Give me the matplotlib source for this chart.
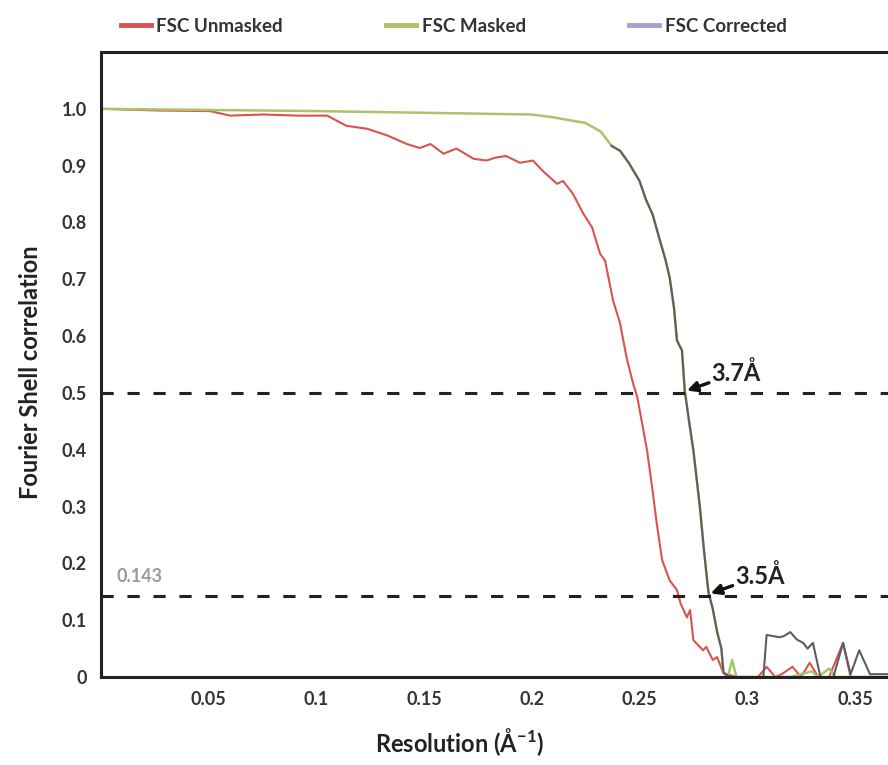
import matplotlib
matplotlib.use('Agg')
import matplotlib.pyplot as plt
from matplotlib.lines import Line2D

plt.rcParams['font.family'] = ['Lato', 'DejaVu Sans']
plt.rcParams['font.weight'] = 'bold'

# FSC curves (resolution in 1/A, correlation)
unmasked_x = [0.0, 0.027, 0.0506, 0.06, 0.075, 0.092, 0.105, 0.114, 0.1235, 0.133, 0.142,
              0.148, 0.153, 0.159, 0.165, 0.173, 0.179, 0.183, 0.188, 0.1945, 0.2005,
              0.205, 0.2117, 0.2145, 0.219, 0.224, 0.228, 0.2317, 0.234, 0.2377, 0.241,
              0.244, 0.247, 0.249, 0.2535, 0.256, 0.258, 0.2605, 0.264, 0.2674, 0.269,
              0.272, 0.2735, 0.275, 0.2795, 0.281, 0.284, 0.286, 0.289, 0.295, 0.305,
              0.309, 0.313, 0.316, 0.321, 0.325, 0.329, 0.333, 0.338, 0.3445, 0.348,
              0.355, 0.365]
unmasked_y = [1.0, 0.997, 0.996, 0.988, 0.99, 0.988, 0.988, 0.970, 0.965, 0.953, 0.938,
              0.931, 0.938, 0.921, 0.930, 0.912, 0.909, 0.914, 0.917, 0.905, 0.909,
              0.891, 0.868, 0.873, 0.851, 0.815, 0.791, 0.745, 0.733, 0.663, 0.622,
              0.562, 0.517, 0.492, 0.399, 0.33, 0.27, 0.206, 0.170, 0.153, 0.130,
              0.105, 0.118, 0.065, 0.047, 0.053, 0.030, 0.035, 0.007, 0.0, 0.0,
              0.018, 0.0, 0.005, 0.018, 0.0, 0.025, 0.0, 0.0, 0.06, 0.0,
              0.0, 0.0]

masked_x = [0.0, 0.05, 0.1, 0.15, 0.2, 0.21, 0.225, 0.232, 0.237, 0.241, 0.245, 0.250,
            0.253, 0.256, 0.2595, 0.262, 0.264, 0.266, 0.2674, 0.2697, 0.271, 0.273,
            0.275, 0.278, 0.280, 0.282, 0.284, 0.286, 0.288, 0.289, 0.291, 0.293,
            0.295, 0.32, 0.33, 0.333, 0.338, 0.341, 0.365]
masked_y = [1.0, 0.998, 0.996, 0.993, 0.99, 0.985, 0.975, 0.96, 0.935, 0.926, 0.905, 0.873,
            0.84, 0.815, 0.768, 0.735, 0.703, 0.65, 0.592, 0.575, 0.504, 0.45,
            0.399, 0.30, 0.22, 0.149, 0.12, 0.08, 0.05, 0.007, 0.0, 0.03,
            0.0, 0.0, 0.01, 0.0, 0.015, 0.0, 0.0]

corrected_x = [0.237, 0.241, 0.245, 0.250, 0.253, 0.256, 0.2595, 0.262, 0.264, 0.266,
               0.2674, 0.2697, 0.271, 0.273, 0.275, 0.278, 0.280, 0.282, 0.284, 0.286,
               0.288, 0.289, 0.292, 0.306, 0.3075, 0.309, 0.315, 0.317, 0.320, 0.323,
               0.326, 0.328, 0.3305, 0.334, 0.340, 0.3445, 0.348, 0.352, 0.357, 0.365]
corrected_y = [0.935, 0.926, 0.905, 0.873, 0.84, 0.815, 0.768, 0.735, 0.703, 0.65,
               0.592, 0.575, 0.504, 0.45, 0.399, 0.30, 0.22, 0.149, 0.12, 0.08,
               0.05, 0.007, 0.0, 0.0, 0.0, 0.074, 0.07, 0.072, 0.079, 0.066,
               0.06, 0.05, 0.06, 0.0, 0.0, 0.06, 0.005, 0.047, 0.005, 0.005]

x_ticks = [0.05, 0.1, 0.15, 0.2, 0.25, 0.3, 0.35]
x_labels = ['0.05', '0.1', '0.15', '0.2', '0.25', '0.3', '0.35']
y_ticks = [0, 0.1, 0.2, 0.3, 0.4, 0.5, 0.6, 0.7, 0.8, 0.9, 1.0]
y_labels = ['0', '0.1', '0.2', '0.3', '0.4', '0.5', '0.6', '0.7', '0.8', '0.9', '1.0']

thresholds = [0.5, 0.143]
res_marks = [(0.271, 0.5, '3.7Å'), (0.282, 0.143, '3.5Å')]

red = '#d9534f'
green = '#a9c46c'
grey = '#5e5e5e'
purple = '#a9a0d0'

fig = plt.figure(figsize=(8.88, 7.65), dpi=100)
ax = fig.add_axes([101 / 888, 88 / 765, 797 / 888, 625 / 765])

ax.plot(unmasked_x, unmasked_y, color=red, lw=1.5)
ax.plot(masked_x, masked_y, color=green, lw=1.8)
ax.plot(corrected_x, corrected_y, color=grey, lw=1.5)

for t in thresholds:
    ax.axhline(t, color='#222222', lw=2.2, dashes=(4, 4.5))

ax.text(0.007, 0.168, '0.143', color='#9a9a9a', fontsize=13, fontweight='bold')

for xv, yv, lab in res_marks:
    ax.annotate(lab, xy=(xv + 0.001, yv + 0.004), xytext=(xv + 0.0125, yv + 0.035),
                fontsize=17, fontweight='bold', va='center', ha='left', color='#222222',
                arrowprops=dict(arrowstyle='-|>', color='#111111', lw=2.4,
                                mutation_scale=15, shrinkA=0, shrinkB=0))

ax.set_xlim(0, 0.37)
ax.set_ylim(0, 1.1)
ax.set_xticks(x_ticks)
ax.set_xticklabels(x_labels)
ax.set_yticks(y_ticks)
ax.set_yticklabels(y_labels)
ax.tick_params(length=0, labelsize=13, pad=10, labelcolor='#333333')
for lab in ax.get_xticklabels() + ax.get_yticklabels():
    lab.set_fontweight('bold')

for s in ax.spines.values():
    s.set_linewidth(2.2)
    s.set_color('#222222')

fig.text(460 / 888, 1 - 742 / 765, 'Resolution (Å$^{\\mathregular{-1}}$)', ha='center',
         va='center', fontsize=17, fontweight='bold', color='#222222')
fig.text(30 / 888, 1 - 372 / 765, 'Fourier Shell correlation', ha='center', va='center',
         rotation=90, fontsize=17, fontweight='bold', color='#222222')

handles = [Line2D([], [], color=red, lw=3.5),
           Line2D([], [], color=green, lw=3.5),
           Line2D([], [], color=purple, lw=3.5)]
fig.legend(handles, ['FSC Unmasked', 'FSC Masked', 'FSC Corrected'], ncol=3,
           loc='center left', bbox_to_anchor=(104 / 888, 1 - 26 / 765), frameon=False,
           fontsize=13.5, handlelength=1.6, handletextpad=0.3, columnspacing=5.5,
           labelcolor='#333333')

fig.savefig('out.png', dpi=100)
